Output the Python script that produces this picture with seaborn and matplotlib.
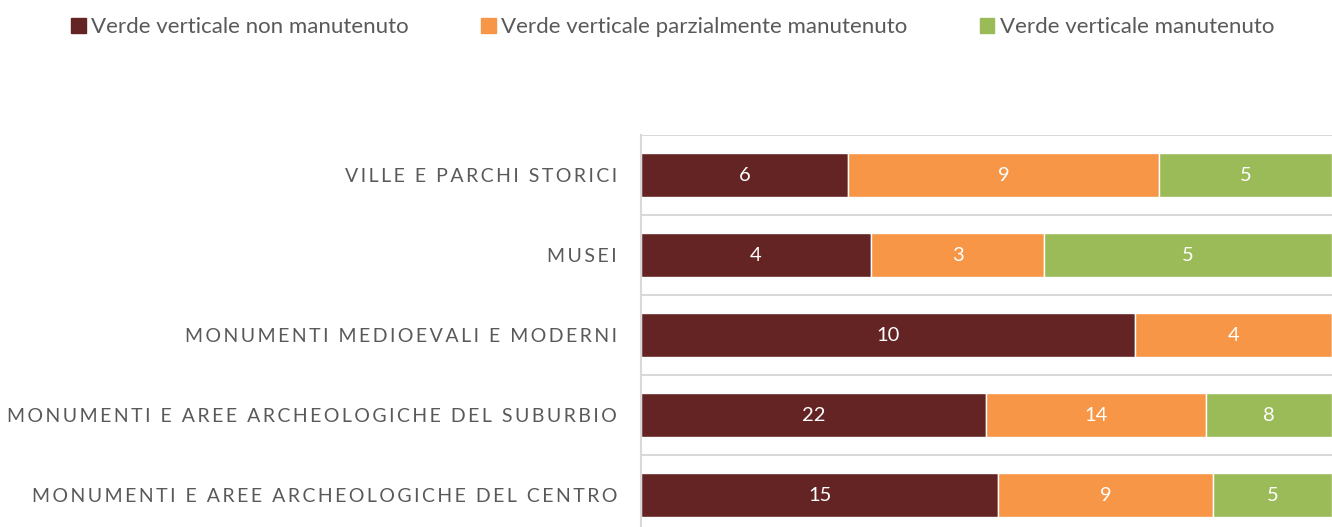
import numpy as np
import pandas as pd
import matplotlib.pyplot as plt
import seaborn as sns
from matplotlib.patches import Patch

categories = ['VILLE E PARCHI STORICI', 'MUSEI', 'MONUMENTI MEDIOEVALI E MODERNI',
              'MONUMENTI E AREE ARCHEOLOGICHE DEL SUBURBIO',
              'MONUMENTI E AREE ARCHEOLOGICHE DEL CENTRO']
non_manutenuto = [6, 4, 10, 22, 15]
parz_manutenuto = [9, 3, 4, 14, 9]
manutenuto = [5, 5, 0, 8, 5]
series_names = ['Verde verticale non manutenuto',
                'Verde verticale parzialmente manutenuto',
                'Verde verticale manutenuto']
colors = ['#632423', '#F79646', '#9BBB59']

sns.set_style('white')
plt.rcParams['font.family'] = ['Lato', 'DejaVu Sans']

df = pd.DataFrame({series_names[0]: non_manutenuto,
                   series_names[1]: parz_manutenuto,
                   series_names[2]: manutenuto}, index=categories)
# 100% stacked
share = df.div(df.sum(axis=1), axis=0)

fig = plt.figure(figsize=(13.32, 5.27), dpi=100)
ax = fig.add_axes([0.4812, -0.0152, 0.5188, 0.759])

y = np.arange(len(categories))
left = np.zeros(len(categories))
for name, col in zip(series_names, colors):
    bars = ax.barh(y, share[name].values, left=left, height=0.56, color=col)
    labels = [str(v) if v > 0 else '' for v in df[name].values]
    ax.bar_label(bars, labels=labels, label_type='center', color='white', fontsize=14.5)
    left += share[name].values

# letter-spaced category labels (tracking like the original)
spaced = ['\u2009'.join(c) for c in categories]

ax.set_xlim(0, 1)
ax.set_ylim(len(categories) - 0.5, -0.5)
ax.set_yticks(y)
ax.set_yticklabels(spaced, color='#595959', fontsize=14)
ax.set_yticks(np.arange(-0.5, len(categories)), minor=True)
ax.tick_params(axis='y', which='both', length=0, pad=17.3)
ax.set_xticks([])
ax.grid(which='minor', axis='y', color='#D9D9D9', lw=1.5)
ax.set_axisbelow(True)
for s in ['top', 'right', 'bottom']:
    ax.spines[s].set_visible(False)
ax.spines['left'].set_color('#D9D9D9')
ax.spines['left'].set_linewidth(1.5)

handles = [Patch(color=c) for c in colors]
fig.legend(handles, series_names, loc='upper center', bbox_to_anchor=(0.505, 1.005),
           ncol=3, frameon=False, fontsize=16, labelcolor='#595959',
           handlelength=0.65, handleheight=0.65, handletextpad=0.25, columnspacing=3.25)

fig.savefig('out.png', dpi=100)
